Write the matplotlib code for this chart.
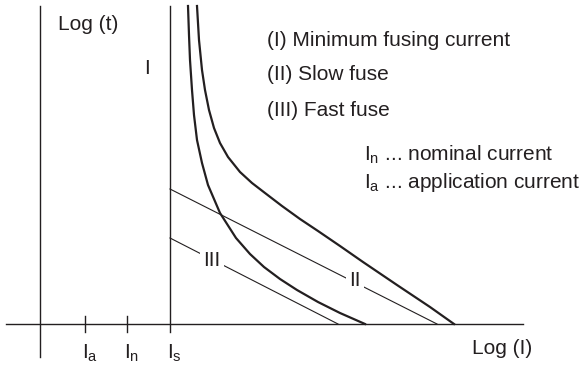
import matplotlib
matplotlib.use('Agg')
import matplotlib.pyplot as plt
from matplotlib import rcParams
rcParams['font.family'] = 'Liberation Sans'
rcParams['mathtext.default'] = 'regular'

ink = '#231f20'

# schematic units: origin where the two axes cross, x grows right, y grows up
tick_names = ['I$_a$', 'I$_n$', 'I$_s$']
tick_pos = [45, 87, 130]

# thick curves
inner_x = [148, 149, 150, 152, 154, 157, 162, 168, 180, 196, 210, 224, 240, 257, 278, 300, 325]
inner_y = [318, 289, 264, 234, 209, 184, 161, 139, 111, 86, 70, 57, 45, 34, 22, 11, 0]
outer_x = [157, 159, 162, 165, 169, 174, 180, 188, 200, 212, 225, 242, 260, 278, 300, 323, 357, 390, 414]
outer_y = [318, 284, 254, 234, 214, 196, 181, 167, 152, 141, 131, 118, 105, 93, 78, 62, 39, 17, 0]

# thin straight lines: start at I_s, end on the current axis
slow_x = [130, 397]
slow_y = [135, 0]
fast_x = [130, 298]
fast_y = [86, 0]

legend_lines = ['(I) Minimum fusing current', '(II) Slow fuse', '(III) Fast fuse']
note_lines = ['I$_n$ ... nominal current', 'I$_a$ ... application current']

fig = plt.figure(figsize=(5.85, 3.68), dpi=100)
ax = fig.add_axes([0, 0, 1, 1])
ax.set_xlim(-40, 545)
ax.set_ylim(-44, 324)
ax.axis('off')

# axes
ax.plot([0, 0], [-33, 318], color=ink, lw=1.0)
ax.plot([-34, 483], [0, 0], color=ink, lw=1.0)
# I_s line (curve I)
ax.plot([tick_pos[2], tick_pos[2]], [-8, 318], color=ink, lw=1.0)
for p in tick_pos[:2]:
    ax.plot([p, p], [-8, 8], color=ink, lw=1.0)
for name, p in zip(tick_names, tick_pos):
    ax.text(p - 3, -29, name, ha='left', va='center', fontsize=15, color=ink)

# curves
ax.plot(inner_x, inner_y, color=ink, lw=1.6, solid_joinstyle='round')
ax.plot(outer_x, outer_y, color=ink, lw=1.6, solid_joinstyle='round')
ax.plot(slow_x, slow_y, color=ink, lw=0.8)
ax.plot(fast_x, fast_y, color=ink, lw=0.8)

box = dict(facecolor='white', edgecolor='none', pad=2.5)
ax.text(315, 43, 'II', ha='center', va='center', fontsize=15, color=ink, bbox=box)
ax.text(172, 63, 'III', ha='center', va='center', fontsize=15, color=ink, bbox=box)
ax.text(107, 256, 'I', ha='center', va='center', fontsize=15, color=ink)

ax.text(18, 300, 'Log (t)', ha='left', va='center', fontsize=15, color=ink)
ax.text(432, -24, 'Log (I)', ha='left', va='center', fontsize=15, color=ink)

for i, s in enumerate(legend_lines):
    ax.text(227, 284 - 35 * i, s, ha='left', va='center', fontsize=15, color=ink)
for i, s in enumerate(note_lines):
    ax.text(324, 169 - 28 * i, s, ha='left', va='center', fontsize=15, color=ink)

plt.savefig('out.png', dpi=100)
